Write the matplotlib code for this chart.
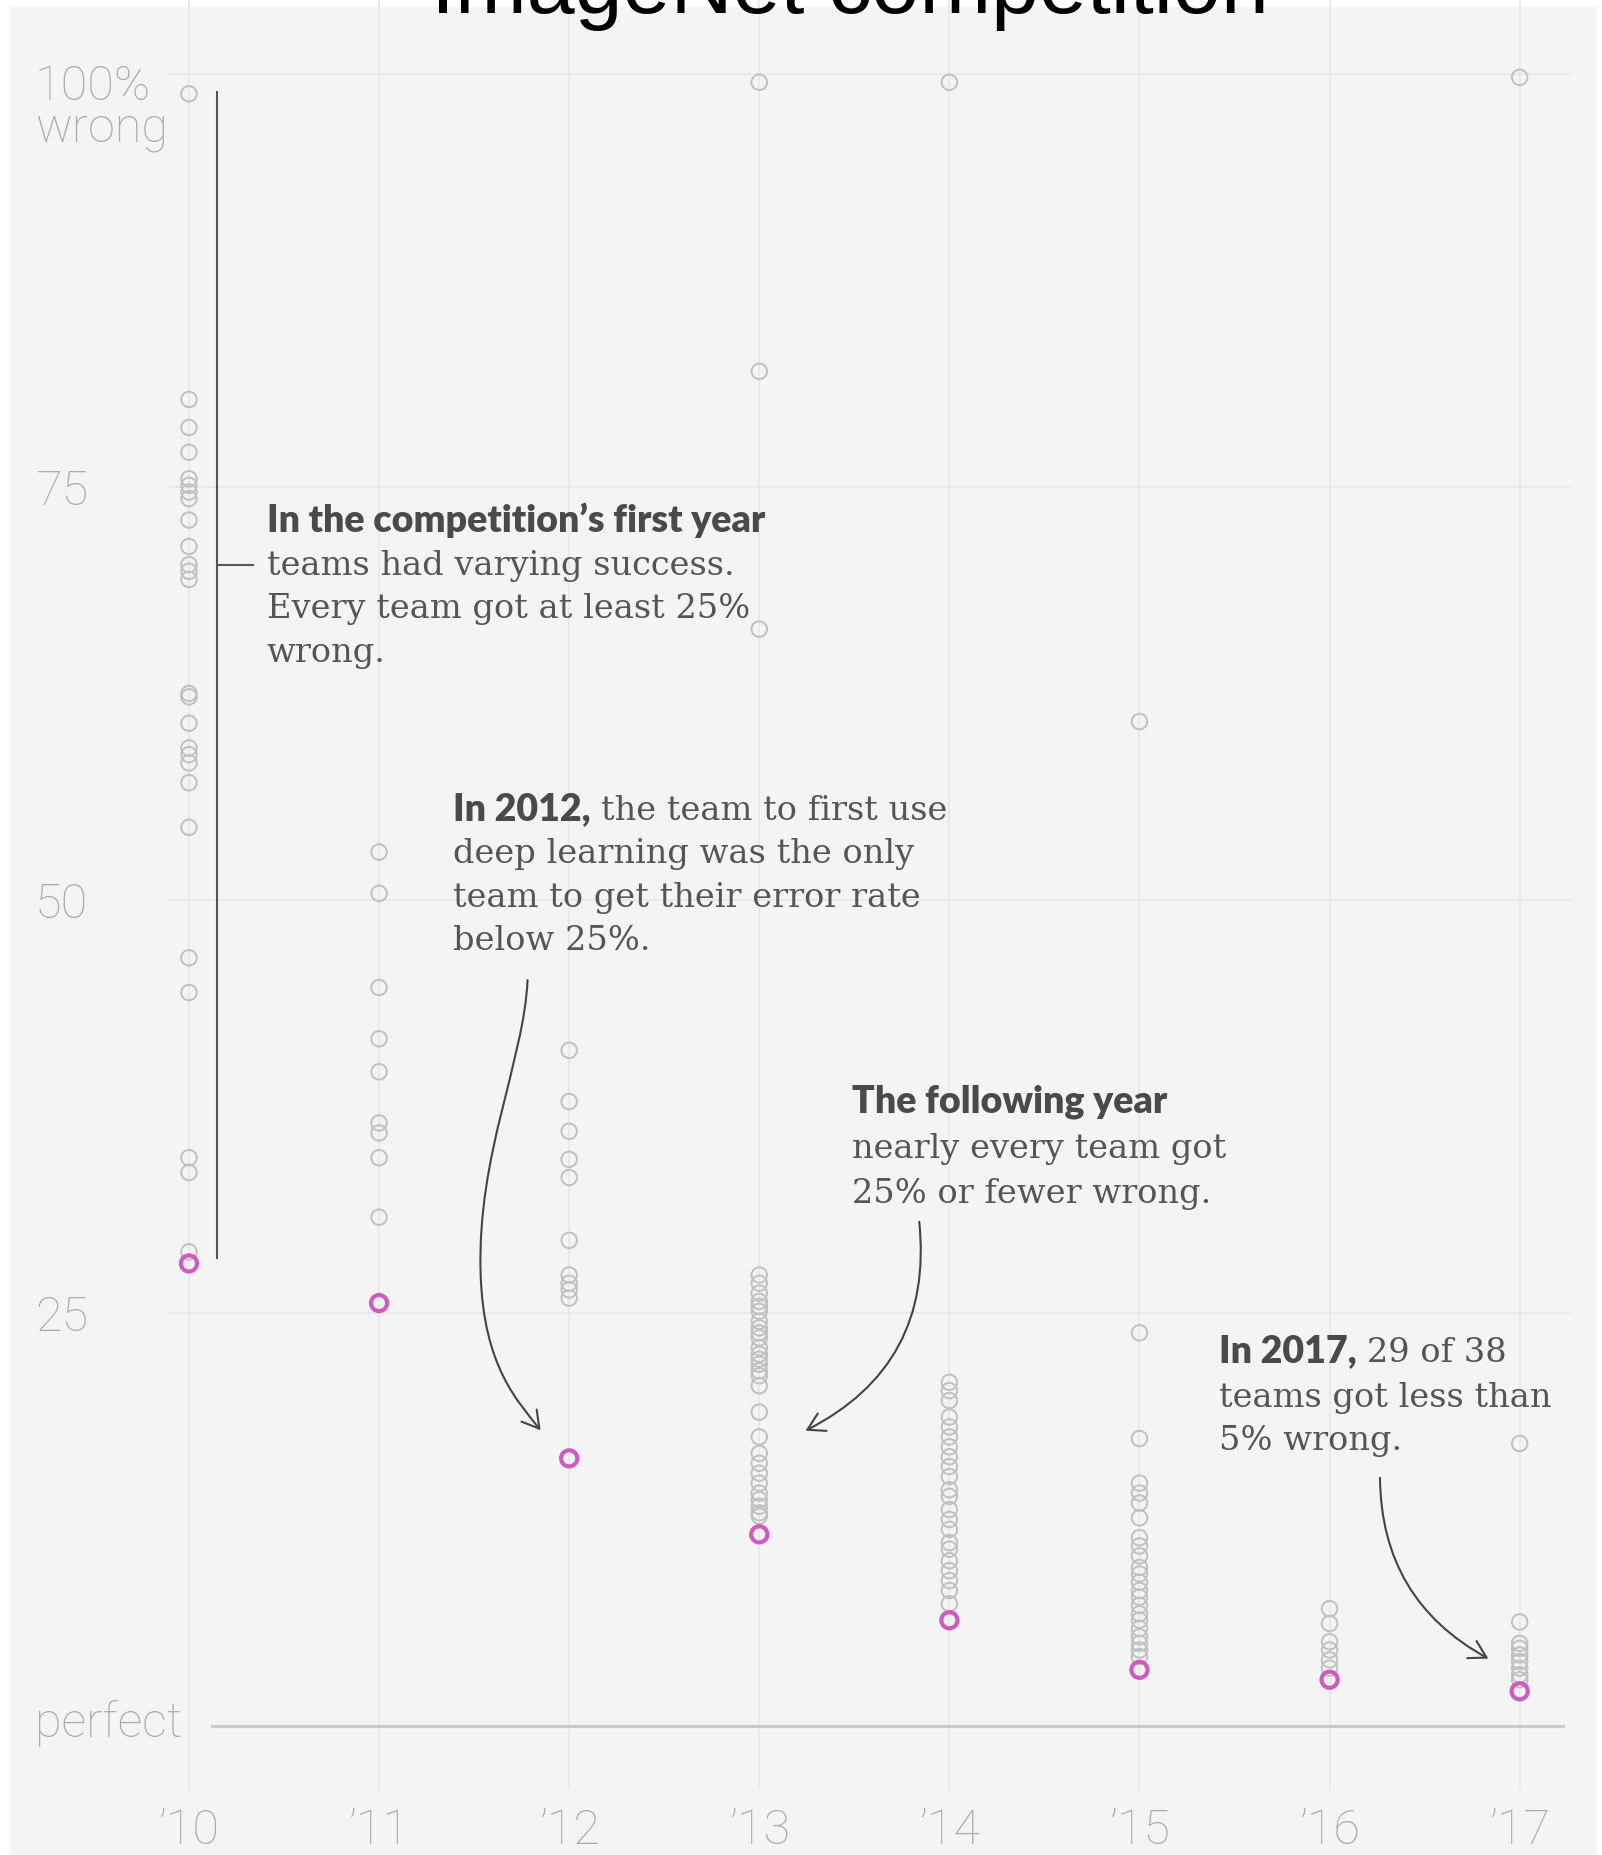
import matplotlib
matplotlib.use('Agg')
import matplotlib.pyplot as plt
from matplotlib.patches import Rectangle, FancyArrowPatch
from matplotlib.path import Path
from matplotlib.transforms import offset_copy

# top-5 error (% wrong) per team
years = ['’10', '’11', '’12', '’13', '’14', '’15', '’16', '’17']
teams_2010 = [98.8, 80.3, 78.6, 77.1, 75.5, 75.1, 74.7, 74.3, 73.0, 71.4, 70.3, 69.9, 69.4,
              62.5, 62.3, 60.7, 59.2, 58.8, 58.3, 57.1, 54.4, 46.5, 44.4, 34.4, 33.5, 28.7]
teams_2011 = [52.9, 50.4, 44.7, 41.6, 39.6, 36.5, 35.9, 34.4, 30.8]
teams_2012 = [40.9, 37.8, 36.0, 34.3, 33.2, 29.4, 27.3, 26.8, 26.4, 25.9]
teams_2013 = [99.5, 82.0, 66.4, 27.3, 26.8, 26.2, 25.7, 25.4, 25.1, 24.5, 24.1, 23.8, 23.5,
              22.9, 22.5, 22.2, 21.9, 21.5, 21.2, 20.6, 19.0, 17.5, 16.5, 15.9, 15.3, 14.7,
              14.1, 13.7, 13.3, 12.9, 12.7]
teams_2014 = [99.5, 20.8, 20.3, 19.7, 18.7, 18.1, 17.5, 16.9, 16.3, 15.7, 15.1, 14.3, 13.9,
              13.1, 12.5, 11.9, 11.1, 10.7, 10.0, 9.4, 8.8, 8.2, 7.4]
teams_2015 = [60.8, 23.8, 17.4, 14.7, 14.1, 13.5, 12.6, 11.4, 10.9, 10.3, 9.6, 9.2, 8.7,
              8.2, 7.8, 7.3, 6.8, 6.4, 5.9, 5.4, 5.0, 4.6, 4.2]
teams_2016 = [7.1, 6.2, 5.1, 4.6, 4.0, 3.5]
teams_2017 = [99.8, 17.1, 6.3, 5.0, 4.7, 4.3, 3.9, 3.5, 3.1, 2.8]
winners = [28.0, 25.6, 16.2, 11.6, 6.4, 3.4, 2.8, 2.1]

all_teams = [teams_2010, teams_2011, teams_2012, teams_2013,
             teams_2014, teams_2015, teams_2016, teams_2017]

grid_vals = [25, 50, 75, 100]

GREY = '#c0c0c0'
PINK = '#d05ac0'
TXT = '#555555'
LBL = '#ababab'

fig = plt.figure(figsize=(16.02, 18.55), dpi=100)
fig.patch.set_facecolor('white')
fig.patches.append(Rectangle((10 / 1602, 0), 1586 / 1602, 1 - 7 / 1855,
                             transform=fig.transFigure, color='#f4f4f4', zorder=-10))

ax = fig.add_axes([0, 0, 1, 1])
ax.set_xlim(-0.994, 7.433)
ax.set_ylim(-7.81, 104.48)
ax.axis('off')

# grid
for i in range(len(years)):
    ax.plot([i, i], [-3.8, 104.5], color='#e8e8e8', lw=1.3, zorder=1)
for v in grid_vals:
    ax.plot([-0.11, 7.27], [v, v], color='#e8e8e8', lw=1.3, zorder=1)
ax.plot([0.12, 7.23], [0, 0], color='#c9c9c9', lw=2.2, zorder=1)

# dots
for i, vals in enumerate(all_teams):
    ax.scatter([i] * len(vals), vals, s=125, facecolors='none', edgecolors=GREY,
               linewidths=1.4, zorder=3)
ax.scatter(range(len(winners)), winners, s=135, facecolors='none', edgecolors=PINK,
           linewidths=3.0, zorder=4)

# axis labels
lab = dict(family='Roboto', weight='light', color=LBL, fontsize=35)
ax.text(-0.81, 98.43, '100%', va='baseline', ha='left', **lab)
ax.text(-0.81, 95.91, 'wrong', va='baseline', ha='left', **lab)
ax.text(-0.81, 73.9, '75', va='baseline', ha='left', **lab)
ax.text(-0.81, 48.9, '50', va='baseline', ha='left', **lab)
ax.text(-0.81, 23.9, '25', va='baseline', ha='left', **lab)
ax.text(-0.81, -0.67, 'perfect', va='baseline', ha='left', **lab)
for i, yl in enumerate(years):
    ax.text(i, -7.15, yl, va='baseline', ha='center', **lab)

fig.text(850 / 1602, 1 - 13 / 1855, 'ImageNet competition', ha='center', va='baseline',
         fontsize=62, family='Liberation Sans', color='black')

# annotations
renderer = fig.canvas.get_renderer()
serif = dict(family='DejaVu Serif', fontsize=24.2, color=TXT)
bold = dict(family='Lato', weight='heavy', fontsize=27, color='#4a4a4a')
probe1 = ax.text(0, 0, 'a a', **serif)
probe2 = ax.text(0, 0, 'aa', **serif)
space_w = (probe1.get_window_extent(renderer).width -
           probe2.get_window_extent(renderer).width)
probe1.remove()
probe2.remove()


def rich_line(x, y, bold_part, rest):
    t = ax.text(x, y, bold_part, va='baseline', ha='left', **bold)
    if rest:
        w = t.get_window_extent(renderer).width + space_w
        tr = offset_copy(ax.transData, fig=fig, x=w, y=0, units='dots')
        ax.text(x, y, rest, va='baseline', ha='left', transform=tr, **serif)


def block(x, ys, bold_part, first_rest, lines):
    rich_line(x, ys[0], bold_part, first_rest)
    for y, s in zip(ys[1:], lines):
        ax.text(x, y, s, va='baseline', ha='left', **serif)


block(0.410, [72.28, 69.67, 67.07, 64.41], 'In the competition’s first year', '',
      ['teams had varying success.', 'Every team got at least 25%', 'wrong.'])
block(1.389, [54.84, 52.24, 49.58, 46.97], 'In 2012,', 'the team to first use',
      ['deep learning was the only', 'team to get their error rate', 'below 25%.'])
block(3.488, [37.11, 34.38, 31.66], 'The following year', '',
      ['nearly every team got', '25% or fewer wrong.'])
block(5.418, [22.03, 19.31, 16.71], 'In 2017,', '29 of 38',
      ['teams got less than', '5% wrong.'])

# bracket for 2010
ax.plot([0.147, 0.147], [98.9, 28.3], color='#555555', lw=1.5, zorder=2)
ax.plot([0.147, 0.337], [70.3, 70.3], color='#555555', lw=1.5, zorder=2)

arrow_kw = dict(arrowstyle='->,head_length=0.6,head_width=0.35', color='#444444',
                lw=1.5, mutation_scale=20, zorder=5)
s_path = Path([(1.781, 45.15), (1.763, 40.30), (1.516, 34.60), (1.534, 27.47),
               (1.547, 21.76), (1.732, 19.62), (1.850, 17.90)],
              [Path.MOVETO, Path.CURVE4, Path.CURVE4, Path.CURVE4,
               Path.CURVE4, Path.CURVE4, Path.CURVE4])
ax.add_patch(FancyArrowPatch(path=s_path, transform=ax.transData, **arrow_kw))
ax.add_patch(FancyArrowPatch((3.840, 30.69), (3.230, 17.80),
                             connectionstyle='arc3,rad=-0.35', **arrow_kw))
ax.add_patch(FancyArrowPatch((6.265, 15.19), (6.848, 4.00),
                             connectionstyle='arc3,rad=0.3', **arrow_kw))

fig.savefig('out.png', dpi=100, facecolor=fig.get_facecolor())
